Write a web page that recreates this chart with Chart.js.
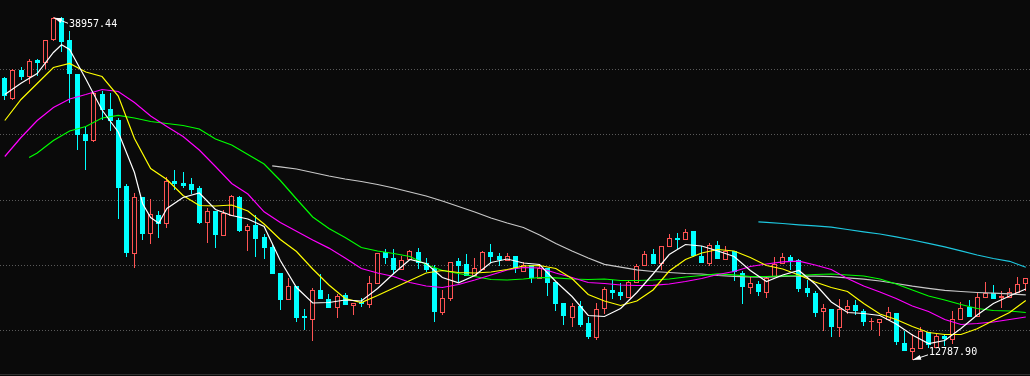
<!DOCTYPE html>
<html>
<head>
<meta charset="utf-8">
<title>K线</title>
<script src="https://cdn.jsdelivr.net/npm/chart.js@4.4.1/dist/chart.umd.min.js"></script>
<style>
  html, body { margin: 0; padding: 0; background: #0a0a0a; overflow: hidden; }
  #chart { display: block; }
</style>
</head>
<body>
<canvas id="chart" width="1030" height="376"></canvas>
<script>
// candle data, one entry per bar
const opens = [
  34334, 32781, 34923, 34441, 35688, 35513, 37272, 38924, 37218, 34617,
  30027, 29545, 33087, 31940, 31098, 26050, 20947, 25185, 22431, 23808,
  23242, 26432, 26279, 26202, 25897, 23318, 24137, 22324, 23854, 25208,
  22660, 23066, 22125, 21360, 19371, 17382, 18399, 16104, 15898, 18070,
  17428, 16770, 17711, 16969, 17153, 17022, 18606, 21023, 20541, 19677,
  20488, 20977, 20136, 19753, 16410, 17458, 20312, 20082, 19240, 19677,
  20977, 20694, 20388, 20694, 19570, 19983, 19034, 19776, 18705, 17099,
  16052, 16869, 15569, 14521, 16694, 18093, 17940, 17581, 18729, 19983,
  20824, 20136, 21436, 22071, 21972, 22607, 20694, 20182, 21536, 20488,
  21077, 19371, 18300, 18530, 17964, 19188, 20136, 20595, 20388, 18270,
  17841, 16510, 16640, 15286, 16663, 16946, 16487, 15684, 15669, 15876,
  16311, 14062, 13427, 13680, 14880, 13757, 14574, 14368, 15898, 16770,
  16128, 17558, 17887, 17558, 17558, 17964, 18606
];
const highs = [
  34350, 34962, 35130, 35765, 35803, 37218, 38957.44, 38940, 37907, 34617,
  30586, 33164, 33279, 33141, 31252, 26202, 25537, 25208, 25055, 24137,
  26715, 27273, 27120, 26661, 26050, 24366, 24137, 24190, 25361, 25285,
  23142, 23831, 22354, 21590, 19394, 19012, 18399, 16617, 18246, 19318,
  17765, 17788, 17887, 17122, 17482, 19165, 20947, 21230, 21207, 20694,
  21131, 21329, 20564, 19983, 18116, 20235, 20564, 20825, 20564, 21077,
  21612, 20924, 20901, 20694, 20258, 20006, 20006, 19776, 18705, 17099,
  17122, 17229, 16052, 17076, 18346, 18858, 18606, 18858, 20060, 21077,
  21230, 21459, 22377, 22431, 22760, 22607, 21459, 21666, 21865, 21482,
  21077, 19547, 19165, 18782, 19188, 20595, 20901, 20748, 20465, 18835,
  17994, 17045, 16640, 17382, 17328, 17328, 16617, 15975, 15853, 16816,
  16311, 14957, 14705, 15286, 14880, 14705, 14651, 16510, 17199, 17328,
  17964, 18683, 18499, 17994, 18246, 19088, 18989
];
const lows = [
  32667, 32743, 34273, 33967, 34541, 35099, 37196, 36400, 32498, 28918,
  27327, 29530, 31175, 30356, 23624, 20694, 19876, 21972, 21712, 22171,
  22936, 25820, 25996, 25491, 23242, 21788, 21406, 22278, 23854, 22607,
  21176, 20717, 20564, 19394, 16640, 17382, 15745, 15110, 14268, 17504,
  16793, 16052, 16999, 16257, 16869, 16816, 18606, 20182, 19417, 19677,
  20488, 19753, 19570, 15745, 16280, 17351, 18782, 19240, 19240, 19677,
  20258, 20029, 20388, 19493, 19570, 18728, 19034, 17711, 16563, 15493,
  15340, 15340, 14444, 14368, 16334, 17458, 17382, 17581, 18729, 19983,
  20182, 19723, 21436, 21284, 21972, 20694, 20235, 19983, 20541, 20488,
  18858, 17122, 17887, 17688, 17535, 19188, 20136, 19677, 18040, 17658,
  16128, 15056, 14597, 14597, 16311, 16257, 15416, 15086, 14651, 15876,
  13939, 13527, 12787.90, 13680, 13757, 13757, 13886, 14017, 15898, 16128,
  16128, 17558, 17504, 16770, 17558, 17964, 18093
];
const closes = [
  32988, 34923, 34464, 35612, 35535, 37196, 38901, 37165, 34671, 30050,
  29568, 33141, 31925, 31075, 25996, 21023, 25185, 22477, 23908, 23242,
  26432, 26302, 26149, 25820, 23295, 24137, 22401, 23984, 25285, 22683,
  22966, 22095, 21406, 19417, 17428, 18376, 16052, 16028, 18070, 17504,
  16816, 17658, 16999, 17122, 17099, 18606, 20901, 20641, 19677, 20388,
  21077, 20258, 19677, 16487, 17458, 20212, 20006, 19240, 19753, 20977,
  20717, 20488, 20694, 19876, 19983, 19111, 19799, 18705, 17122, 16181,
  16869, 15492, 14597, 16663, 18147, 17940, 17734, 18729, 19930, 20824,
  20182, 21459, 22071, 22018, 22553, 20771, 20235, 21559, 20564, 21054,
  19523, 18422, 18606, 18040, 18989, 20082, 20595, 20388, 18270, 17964,
  16434, 16694, 15363, 16663, 16869, 16563, 15745, 15707, 15853, 16410,
  14215, 13527, 13657, 14957, 13939, 14574, 14444, 15853, 16716, 16128,
  17558, 17887, 17504, 17634, 17964, 18575, 18989
];

// moving averages as [bar index, value]
const ma5 = [
  [0,33087],[2,33952],[4,34694],[6,36300],[7,36890],[8,36530],[10,34273],[12,31902],[14,30219],
  [16,27120],[17,24749],[18,23678],[19,23242],[20,24366],[22,25208],[24,25552],[26,24290],[28,23831],
  [30,23563],[32,22990],[34,20388],[36,18323],[38,17137],[40,17175],[42,17367],[44,17290],[46,18246],
  [48,19394],[50,20465],[52,20159],[54,19088],[56,18683],[58,19240],[60,20235],[62,20503],[64,20197],
  [66,20082],[68,18782],[70,17635],[72,16181],[74,16104],[76,16716],[78,17940],[80,19356],[82,20847],
  [84,21612],[86,21498],[88,21115],[90,20694],[92,19623],[94,18782],[96,19279],[98,19623],[100,18591],
  [102,17214],[104,16410],[106,16334],[108,16181],[110,15531],[112,14689],[114,14039],[116,14268],
  [118,15186],[120,16220],[122,17099],[124,17672],[126,18208]
];
const ma10 = [
  [0,31098],[2,32705],[4,33929],[6,35153],[8,35459],[10,34809],[12,34464],[14,32973],[16,29722],
  [18,27426],[20,26585],[22,25361],[24,24596],[26,24558],[28,24634],[30,24175],[32,23181],[34,21995],
  [36,21077],[38,19738],[40,18514],[42,17481],[44,17175],[46,17711],[48,18285],[50,18858],[52,19432],
  [54,19623],[56,19470],[58,19432],[60,19509],[62,19700],[64,19968],[66,20006],[68,19776],[70,19012],
  [72,17788],[74,17290],[76,16946],[78,17290],[80,18132],[82,19585],[84,20465],[86,20962],[88,21230],
  [90,21115],[92,20618],[94,20006],[96,19738],[98,19279],[100,18743],[102,18323],[104,18017],[106,17099],
  [108,16296],[110,15875],[112,15340],[114,14880],[116,14727],[118,14727],[120,15163],[122,15798],
  [124,16410],[126,17328]
];
const ma20 = [
  [0,28344],[2,29798],[4,31098],[6,32093],[8,32743],[10,33087],[12,33470],[14,33317],[16,32475],
  [18,31442],[20,30640],[22,29875],[24,28842],[26,27579],[28,26279],[30,25476],[32,24114],[34,23295],
  [36,22630],[38,21957],[40,21337],[42,20580],[44,19776],[46,19432],[48,19164],[50,18705],[52,18437],
  [54,18323],[56,18552],[58,18897],[60,19279],[62,19662],[64,19853],[66,19815],[68,19432],[70,19088],
  [72,18705],[74,18629],[76,18514],[78,18476],[80,18491],[82,18591],[84,18782],[86,19012],[88,19318],
  [90,19547],[92,19930],[94,20121],[96,20289],[98,20335],[100,20044],[102,19700],[104,19012],[106,18438],
  [108,17979],[110,17481],[112,16907],[114,16487],[116,15876],[118,15493],[120,15570],[122,15684],
  [124,15876],[126,16067]
];
const ma30 = [
  [3,28268],[4,28612],[6,29568],[8,30295],[10,30640],[12,31289],[14,31496],[16,31289],[18,31022],
  [20,30869],[22,30716],[24,30448],[26,29683],[28,29224],[30,28497],[32,27763],[34,26508],[36,25093],
  [38,23716],[40,22836],[42,22148],[44,21383],[46,21115],[48,20924],[50,20694],[52,20082],[54,19623],
  [56,19394],[58,19164],[60,18935],[62,18897],[64,18973],[66,19088],[68,19065],[70,18973],[72,18935],
  [74,18973],[76,18858],[78,18858],[80,18897],[82,18973],[84,19126],[86,19240],[88,19371],[90,19295],
  [92,19164],[94,19164],[96,19218],[98,19240],[100,19318],[102,19356],[104,19279],[106,19203],[108,18973],
  [110,18591],[112,18132],[114,17672],[116,17366],[118,17022],[120,16716],[122,16563],[124,16525],
  [126,16410]
];
const ma60 = [
  [33,27633],[34,27557],[36,27388],[38,27120],[40,26853],[42,26624],[44,26432],[46,26202],[48,25935],
  [50,25628],[52,25322],[54,24940],[56,24519],[58,24098],[60,23639],[62,23257],[64,22913],[66,22339],
  [68,21689],[70,21115],[72,20580],[74,20098],[76,19876],[78,19677],[80,19547],[82,19470],[84,19394],
  [86,19356],[88,19240],[90,19179],[92,19141],[94,19111],[96,19164],[98,19202],[100,19187],[102,19149],
  [104,19065],[106,18958],[108,18820],[110,18629],[112,18423],[114,18262],[116,18109],[118,18017],
  [120,17940],[122,17887],[124,17841],[126,17765]
];
const ma120 = [
  [93,23349],[94,23311],[96,23219],[98,23120],[100,23043],[102,22936],[104,22760],[106,22584],
  [108,22416],[110,22201],[112,21957],[114,21704],[116,21436],[118,21130],[120,20807],[122,20541],
  [124,20327],[126,19876]
];

const gridLevels = [15000, 20000, 25000, 30000, 35000];
const highMark = { index: 6, value: 38957.44, text: '38957.44' };
const lowMark = { index: 112, value: 12787.90, text: '12787.90' };

const BG = '#0a0a0a';
const UP = '#ff5454';
const DOWN = '#00ffff';

function toPoints(pairs) {
  return pairs.map(p => ({ x: p[0], y: p[1] }));
}

function maLine(pairs, color) {
  return {
    data: toPoints(pairs),
    borderColor: color,
    borderWidth: 1.2,
    pointRadius: 0,
    tension: 0,
    fill: false
  };
}

// dotted horizontal grid + bottom rule
const gridPlugin = {
  id: 'grid',
  beforeDatasetsDraw(chart) {
    const c = chart.ctx;
    const y = chart.scales.y;
    c.save();
    c.fillStyle = '#5a5a5a';
    gridLevels.forEach(v => {
      const row = Math.round(y.getPixelForValue(v) - 0.5);
      for (let px = 0; px < chart.width; px += 3) {
        c.fillRect(px, row, 1, 1);
      }
    });
    c.fillStyle = '#303030';
    c.fillRect(0, chart.height - 2, chart.width, 1);
    c.restore();
  }
};

// candles, drawn under the moving averages
const candlePlugin = {
  id: 'candles',
  beforeDatasetsDraw(chart) {
    const c = chart.ctx;
    const xs = chart.scales.x;
    const ys = chart.scales.y;
    const row = v => Math.round(ys.getPixelForValue(v) - 0.5);
    c.save();
    for (let i = 0; i < opens.length; i++) {
      const o = opens[i], cl = closes[i];
      const up = cl >= o;
      const col = Math.round(xs.getPixelForValue(i) - 0.5);
      const left = col - 2;
      const top = row(Math.max(o, cl));
      const bot = row(Math.min(o, cl));
      const hi = row(highs[i]);
      const lo = row(lows[i]);
      const color = up ? UP : DOWN;

      c.fillStyle = color;
      c.fillRect(col, hi, 1, lo - hi + 1);

      const h = bot - top + 1;
      if (up) {
        c.fillStyle = BG;
        c.fillRect(left, top, 5, h);
        c.fillStyle = color;
        c.fillRect(left, top, 5, 1);
        c.fillRect(left, bot, 5, 1);
        c.fillRect(left, top, 1, h);
        c.fillRect(left + 4, top, 1, h);
      } else {
        c.fillRect(left, top, 5, h);
      }
    }
    c.restore();
  }
};

// high / low value tags with small arrows
function drawTag(chart, mark, dx, dy) {
  const c = chart.ctx;
  const x0 = Math.round(chart.scales.x.getPixelForValue(mark.index)) + 1;
  const y0 = chart.scales.y.getPixelForValue(mark.value);
  const x1 = x0 + dx, y1 = y0 + dy;
  const ang = Math.atan2(dy, dx);
  c.save();
  c.strokeStyle = '#ffffff';
  c.fillStyle = '#ffffff';
  c.lineWidth = 1;
  c.beginPath();
  c.moveTo(x0, y0);
  c.lineTo(x1, y1);
  c.stroke();
  c.beginPath();
  c.moveTo(x0, y0);
  c.lineTo(x0 + 8 * Math.cos(ang) - 2.5 * Math.sin(ang), y0 + 8 * Math.sin(ang) + 2.5 * Math.cos(ang));
  c.lineTo(x0 + 8 * Math.cos(ang) + 2.5 * Math.sin(ang), y0 + 8 * Math.sin(ang) - 2.5 * Math.cos(ang));
  c.closePath();
  c.fill();
  c.font = '10px "DejaVu Sans Mono", monospace';
  c.textBaseline = 'middle';
  c.textAlign = 'left';
  c.fillText(mark.text, x1 + 1, y1 + (dy > 0 ? 1 : -2));
  c.restore();
}

const tagPlugin = {
  id: 'tags',
  afterDatasetsDraw(chart) {
    drawTag(chart, highMark, 14, 5.5);
    drawTag(chart, lowMark, 15, -5);
  }
};

const ctx = document.getElementById('chart').getContext('2d');
new Chart(ctx, {
  type: 'line',
  data: {
    datasets: [
      maLine(ma5, '#ffffff'),
      maLine(ma10, '#ffff00'),
      maLine(ma20, '#ff00ff'),
      maLine(ma30, '#00ff00'),
      maLine(ma60, '#c8c8c8'),
      maLine(ma120, '#1ec8e0')
    ]
  },
  options: {
    responsive: false,
    animation: false,
    events: [],
    layout: { padding: 0 },
    plugins: {
      legend: { display: false },
      tooltip: { enabled: false }
    },
    scales: {
      x: { type: 'linear', min: -0.592, max: 126.52, display: false },
      y: { type: 'linear', min: 11552.75, max: 40316.75, display: false }
    }
  },
  plugins: [gridPlugin, candlePlugin, tagPlugin]
});
</script>
</body>
</html>
